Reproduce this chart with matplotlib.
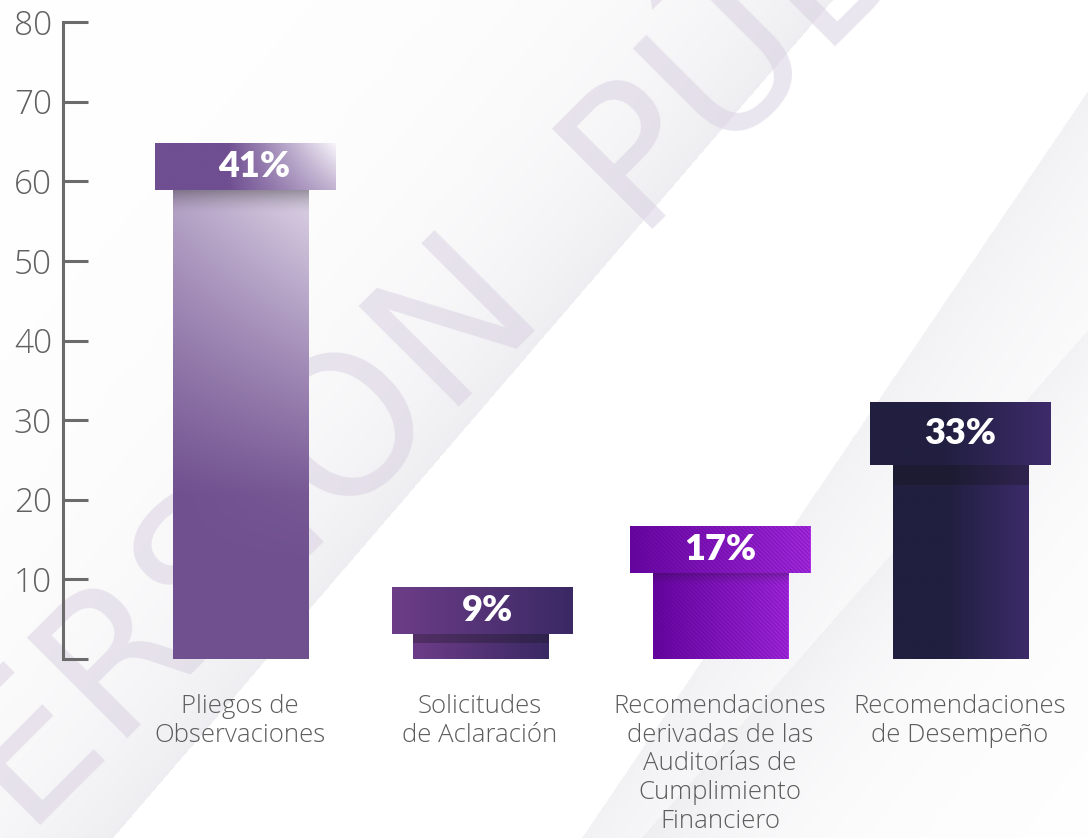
import numpy as np
import matplotlib.pyplot as plt
from matplotlib.colors import to_rgb
from matplotlib.patches import Rectangle

# data
categories = ['Pliegos de\nObservaciones',
              'Solicitudes\nde Aclaración',
              'Recomendaciones\nderivadas de las\nAuditorías de\nCumplimiento\nFinanciero',
              'Recomendaciones\nde Desempeño']
pct_labels = ['41%', '9%', '17%', '33%']
body_top = [58.9, 3.1, 10.8, 24.4]     # top of the bar body
cap_top = [64.8, 9.0, 16.7, 32.3]      # top of the label cap
yticks = [0, 10, 20, 30, 40, 50, 60, 70, 80]
ytick_labels = ['', '10', '20', '30', '40', '50', '60', '70', '80']

W, H = 1088, 838
BODY_W = 0.5625
CAP_W = 0.75
TXT = 'Open Sans'


def grad_rect(ax, x0, x1, y0, y1, c0, c1, tfunc, z=2):
    n = 200
    u = np.linspace(0, 1, n)
    U, V = np.meshgrid(u, u[::-1])
    t = np.clip(tfunc(U, V), 0, 1)[..., None]
    c0, c1 = np.array(to_rgb(c0)), np.array(to_rgb(c1))
    img = c0 + (c1 - c0) * t
    ax.imshow(img, extent=[x0, x1, y0, y1], aspect='auto', zorder=z,
              interpolation='bilinear')


def shadow(ax, x0, x1, y0, y1, a, p, z=3):
    n = 100
    v = np.linspace(1, 0, n)
    img = np.zeros((n, 2, 4))
    img[..., :3] = 0.08
    img[..., 3] = (a * v ** p)[:, None]
    ax.imshow(img, extent=[x0, x1, y0, y1], aspect='auto', zorder=z,
              interpolation='bilinear')


fig = plt.figure(figsize=(W / 100, H / 100), dpi=100)
fig.patch.set_facecolor('white')

# soft diagonal background shading
bg = fig.add_axes([0, 0, 1, 1], zorder=-5)
bg.axis('off')
py, px = np.mgrid[0:H, 0:W].astype(float)
s1 = (px - 833) * 0.758 + py * 0.652
s2 = (px - 1088) * 0.827 + (py - 91) * 0.561
s3 = (px - 1088) * 0.75 + (py - 330) * 0.66
g = np.where(s1 < 0, 0.065 * np.exp(s1 / 140), 0)
g += np.where(s2 > 0, 0.05 * np.exp(-s2 / 130), 0)
g += np.where((s3 > 0) & (s2 > 0), 0.03 * np.exp(-s3 / 80), 0)
bg.imshow(np.dstack([1 - g, 1 - g, 1 - g * 0.8]), extent=[0, W, H, 0],
          aspect='auto', interpolation='bilinear')
bg.set_xlim(0, W)
bg.set_ylim(H, 0)

# watermark
wm = dict(fontsize=140, color='#d6cddf', alpha=0.5, rotation=45,
          rotation_mode='anchor', ha='center', va='center', zorder=-2,
          family='DejaVu Sans')
fig.text(203 / W, 1 - 585 / H, 'VERSIÓN', **wm)
fig.text(888 / W, 1 + 102 / H, 'PÚBLICA', **wm)

ax = fig.add_axes([63 / W, 1 - 659 / H, 1 - 63 / W, (659 - 22) / H])
ax.patch.set_visible(False)

x = np.arange(len(categories))

body_cols = [('#70508f', '#ddd3e6'), ('#6d3c88', '#3a2964'),
             ('#6806a1', '#aa2ce6'), ('#201f3f', '#3c2b69')]
cap_cols = [('#6f4e91', '#f8f5fb'), ('#6d3d88', '#3a2964'),
            ('#6a07a3', '#ad2fe8'), ('#211f40', '#3d2b6a')]
body_t = [
    lambda U, V: np.clip((V - 0.35) / 0.65, 0, 1) * 0.65 + U * 0.35 * np.clip((V - 0.2) / 0.8, 0, 1),
    lambda U, V: U,
    lambda U, V: U,
    lambda U, V: np.clip((U - 0.4) / 0.6, 0, 1),
]
cap_t = [
    lambda U, V: np.clip((U - 0.4) / 0.6, 0, 1) * (0.6 + 0.4 * V),
    lambda U, V: U,
    lambda U, V: U,
    lambda U, V: np.clip((U - 0.4) / 0.6, 0, 1),
]
cap_dx = [0.02, 0.01, 0.0, 0.0]
shadow_h = [3.0, 1.1, 1.5, 2.5]
shadow_a = [0.35, 0.3, 0.25, 0.3]
shadow_p = [1.5, 0.0, 1.5, 0.0]
label_dx = [0.06, 0.03, 0.0, 0.0]

plt.rcParams['hatch.linewidth'] = 1.4

for i in range(len(categories)):
    bx0, bx1 = x[i] - BODY_W / 2, x[i] + BODY_W / 2
    cx0, cx1 = x[i] + cap_dx[i] - CAP_W / 2, x[i] + cap_dx[i] + CAP_W / 2
    grad_rect(ax, bx0, bx1, 0, body_top[i], *body_cols[i], body_t[i], z=2)
    grad_rect(ax, cx0, cx1, body_top[i], cap_top[i], *cap_cols[i], cap_t[i], z=4)
    shadow(ax, bx0, bx1, body_top[i] - shadow_h[i], body_top[i], shadow_a[i], shadow_p[i])
    if i == 2:
        for (a0, a1, b0, b1, z) in [(bx0, bx1, 0, body_top[i], 2.5),
                                    (cx0, cx1, body_top[i], cap_top[i], 4.5)]:
            ax.add_patch(Rectangle((a0, b0), a1 - a0, b1 - b0, fill=False,
                                   hatch='\\' * 8, edgecolor=(0.33, 0.0, 0.55, 0.35),
                                   linewidth=0, zorder=z))
    ax.text(x[i] + label_dx[i], (body_top[i] + cap_top[i]) / 2, pct_labels[i],
            ha='center', va='center', color='white', fontsize=26,
            fontweight='heavy', family='Lato', zorder=6)

ax.set_xlim(-0.7375, 3.533)
ax.set_ylim(0, 80)

for s in ['top', 'right', 'bottom']:
    ax.spines[s].set_visible(False)
ax.spines['left'].set_color('#6b6b6b')
ax.spines['left'].set_linewidth(2.2)
ax.spines['left'].set_zorder(7)

ax.set_yticks(yticks)
ax.set_yticklabels(ytick_labels, family=TXT, fontweight='light', fontsize=24,
                   color='#606060')
ax.tick_params(axis='y', direction='in', length=18, width=2.2, color='#6b6b6b', pad=8)

ax.set_xticks(x)
ax.set_xticklabels(categories, family=TXT, fontweight='light', fontsize=18.5,
                   color='#5c5c5c', linespacing=1.2)
ax.tick_params(axis='x', length=0, pad=25)

fig.savefig('out.png', dpi=100)
